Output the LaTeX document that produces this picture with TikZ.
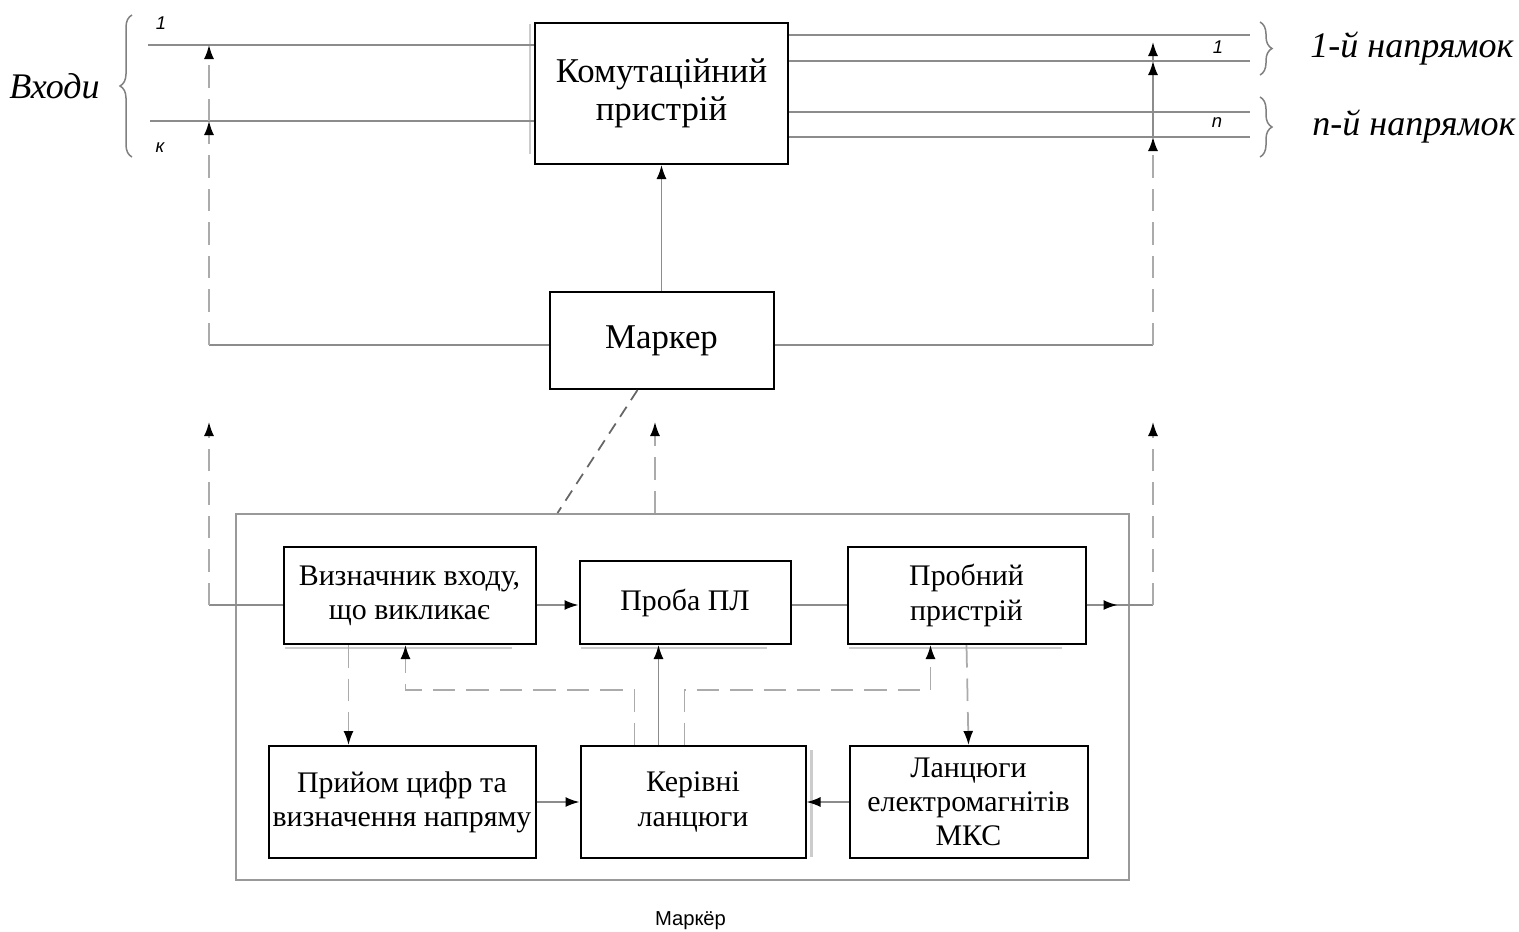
\documentclass[tikz,border=0pt]{standalone}
\usepackage{fontspec}
\setmainfont{Liberation Serif}
\setsansfont{Liberation Sans}
\usepackage{tikz}
\usetikzlibrary{positioning}
\usetikzlibrary{arrows.meta,decorations.pathreplacing}
\definecolor{linkgray}{HTML}{8C8C8C}
\definecolor{dashgray}{HTML}{ABABAB}
\definecolor{framegray}{HTML}{999999}
\tikzstyle{block}=[draw=black,line width=0.04cm,align=center,inner sep=0pt,font=\fontsize{17}{19.5}\selectfont]
\tikzstyle{big block}=[font=\fontsize{19.8}{21.5}\selectfont]
\tikzstyle{link}=[draw=linkgray,line width=0.035cm]
\tikzstyle{link arrow}=[link,-{Latex[length=0.28cm,width=0.2cm,black]}]
\tikzstyle{dash link}=[link,draw=dashgray,dash pattern=on 0.45cm off 0.22cm]
\tikzstyle{dash arrow}=[dash link,-{Latex[length=0.28cm,width=0.2cm,black]}]
\tikzstyle{diag link}=[link,draw=gray!80!black,dash pattern=on 0.24cm off 0.16cm]
\tikzstyle{shadow line}=[draw=gray!40,line width=0.05cm]
\tikzstyle{brace line}=[draw=gray,line width=0.03cm,decorate,decoration={brace,amplitude=0.24cm}]
\tikzstyle{side text}=[inner sep=0pt,font=\fontsize{20.5}{22}\selectfont\itshape]
\tikzstyle{tag}=[inner sep=0pt,font=\sffamily\itshape\fontsize{10.5}{11}\selectfont]
\newcommand{\blocknode}[3][]{
  \node [block, #1] (#2) {#3}
}

\begin{document}
\begin{tikzpicture}[node distance=1cm]
\useasboundingbox (0,0) rectangle (30.38,-18.64);
        \blocknode[big block, at={(13.23,-1.87)}, minimum width=5.06cm, minimum height=2.82cm]{komm}{Комутаційний\\пристрій};
        \blocknode[big block, below=2.52cm of komm, minimum width=4.48cm, minimum height=1.94cm]{mark}{Маркер};
        \node[below=2.46cm of mark, xshift=0.41cm, draw=framegray, line width=0.04cm, minimum width=17.86cm, minimum height=7.32cm] (outer) {};
        \node[below=0.6cm of outer, xshift=0.17cm, inner sep=0pt, font=\sffamily\fontsize{11.5}{12}\selectfont] (outerlabel) {Маркёр};
         \blocknode[below right=0.66cm and 0.96cm of outer.north west, minimum width=5.04cm, minimum height=1.94cm]{viz}{Визначник входу,\\що викликає};
         \blocknode[right=0.84cm of viz.south east, anchor=south west, minimum width=4.22cm, minimum height=1.66cm]{proba}{Проба ПЛ};
         \blocknode[right=6.2cm of viz, minimum width=4.76cm, minimum height=1.94cm]{probn}{Пробний\\пристрій};
          \blocknode[below left=2cm and 0cm of viz.south east, minimum width=5.34cm, minimum height=2.24cm]{priy}{Прийом цифр та\\визначення напряму};
          \blocknode[right=0.86cm of priy, minimum width=4.5cm, minimum height=2.24cm]{ker}{Керівні\\ланцюги};
          \blocknode[right=0.84cm of ker, minimum width=4.76cm, minimum height=2.24cm]{lanc}{Ланцюги\\електромагнітів\\МКС};

\coordinate (in1) at (2.96,-0.9);
\coordinate (ink) at (3.0,-2.42);
\coordinate (out1a) at (25.0,-0.7);
\coordinate (out1b) at (25.0,-1.22);
\coordinate (outna) at (25.0,-2.24);
\coordinate (outnb) at (25.0,-2.74);
\coordinate (lcol) at (4.18,-6.9);
\coordinate (rcol) at (23.06,-6.9);
\coordinate (ltip) at (4.18,-8.44);
\coordinate (mtip) at (13.1,-8.44);
\coordinate (rtip) at (23.06,-8.44);
\coordinate (ljoin) at (4.18,-12.1);
\coordinate (rjoin) at (23.06,-12.1);
\coordinate (dashrow) at (13.8,-13.8);

\draw[shadow line] ([xshift=-0.08cm,yshift=-0.04cm]komm.north west) -- ([xshift=-0.08cm,yshift=0.22cm]komm.south west);
\draw[shadow line] ([xshift=0.1cm,yshift=-0.1cm]ker.north east) -- ([xshift=0.1cm,yshift=0.04cm]ker.south east);
\foreach \n in {viz,proba,probn}
  \draw[shadow line] ([xshift=0.05cm,yshift=-0.06cm]\n.south west) -- ([xshift=-0.5cm,yshift=-0.06cm]\n.south east);

      \draw[link] (in1) -- (in1 -| komm.west);
      \draw[link] (ink) -- (ink -| komm.west);
      \draw[link] (komm.east |- out1a) -- (out1a);
      \draw[link] (komm.east |- out1b) -- (out1b);
      \draw[link] (komm.east |- outna) -- (outna);
      \draw[link] (komm.east |- outnb) -- (outnb);
      \draw[link arrow] (mark.north) -- (komm.south);
      \draw[link] (mark.west |- lcol) -- (lcol);
      \draw[link] (mark.east |- rcol) -- (rcol);
      \draw[dash arrow] (lcol) -- (lcol |- ink);
      \draw[dash arrow] (lcol |- ink) -- (lcol |- in1);
      \draw[dash arrow] (rcol) -- (rcol |- outnb);
      \draw[link arrow] (rcol |- outnb) -- (rcol |- out1b);
      \draw[link arrow, shorten >=0.14cm] (rcol |- out1b) -- (rcol |- out1a);
      \draw[diag link] ([xshift=-0.48cm]mark.south) -- ([xshift=-2.49cm]outer.north);
      \draw[dash arrow] (outer.north -| mtip) -- (mtip);

      \draw[link] (viz.west |- ljoin) -- (ljoin);
      \draw[dash arrow] (ljoin) -- (ltip);
      \draw[link arrow] (viz.east |- ljoin) -- (proba.west |- ljoin);
      \draw[link] (proba.east |- ljoin) -- (probn.west |- ljoin);
      \draw[link] (probn.east |- rjoin) -- (rjoin);
      \draw[link arrow] (probn.east |- rjoin) -- ([xshift=0.62cm]probn.east |- rjoin);
      \draw[dash arrow] (rjoin) -- (rtip);

      \draw[dash arrow] ([xshift=-1.22cm]viz.south) -- ([xshift=-1.22cm]viz.south |- priy.north);
      \draw[dash arrow] ([xshift=-1.17cm]ker.north) |- ([xshift=-0.08cm]viz.south |- dashrow) -- ([xshift=-0.08cm]viz.south);
      \draw[link arrow] ([xshift=-0.69cm]ker.north) -- ([xshift=-0.69cm]ker.north |- proba.south);
      \draw[dash arrow] ([xshift=-0.17cm]ker.north) |- ([xshift=-0.72cm]probn.south |- dashrow) -- ([xshift=-0.72cm]probn.south);
      \draw[dash arrow] (probn.south) -- (lanc.north);
      \draw[link arrow] (priy.east) -- (ker.west);
      \draw[link arrow] (lanc.west) -- (ker.east);

\draw[brace line] (2.64,-3.14) -- (2.64,-0.3) coordinate[midway, xshift=-0.24cm] (inbrace);
\draw[brace line] (25.2,-0.44) -- (25.2,-1.5) coordinate[midway, xshift=0.24cm] (dir1brace);
\draw[brace line] (25.2,-1.94) -- (25.2,-3.14) coordinate[midway, xshift=0.24cm] (dirnbrace);
\node[side text, left=0.4cm of inbrace] (inputs) {Входи};
\node[side text, right=0.76cm of dir1brace] (dir1) {1-й напрямок};
\node[side text, right=0.8cm of dirnbrace] (dirn) {n-й напрямок};
\node[tag] (lab1) at (3.22,-0.46) {1};
\node[tag] (labk) at (3.2,-2.96) {к};
\node[tag] (labo1) at (24.36,-0.94) {1};
\node[tag] (labon) at (24.34,-2.46) {n};

      \end{tikzpicture}
\end{document}
